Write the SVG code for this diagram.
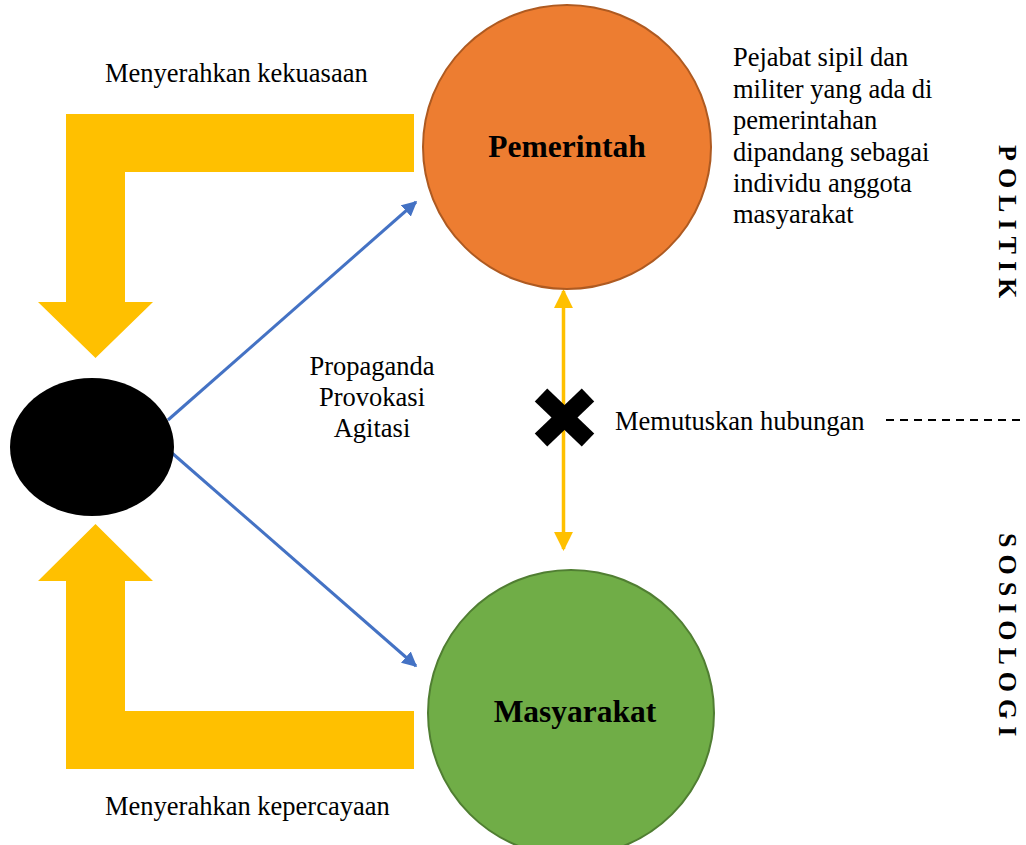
<svg xmlns="http://www.w3.org/2000/svg" width="1026" height="845" viewBox="0 0 1026 845">
<style>
.t{font-family:"Liberation Serif","Times New Roman",serif;font-size:26.5px;fill:#000}
.b{font-family:"Liberation Serif","Times New Roman",serif;font-size:31.5px;font-weight:bold;fill:#000}
.v{font-family:"Liberation Serif","Times New Roman",serif;font-size:26px;font-weight:bold;fill:#000;letter-spacing:7px}
.big{fill:#FFC000}
</style>
<defs>
<marker id="ab" viewBox="0 0 10 10" refX="9" refY="5" markerWidth="5" markerHeight="5" orient="auto"><path d="M0,0 L10,5 L0,10 z" fill="#4472C4"/></marker>
<marker id="ay" viewBox="0 0 10 10" refX="9" refY="5" markerWidth="5.5" markerHeight="5.5" orient="auto-start-reverse"><path d="M0,0 L10,5 L0,10 z" fill="#FFC000"/></marker>
</defs>
<rect width="1026" height="845" fill="#fff"/>
<g id="connectors">
<path class="big" d="M414,114 L66,114 L66,302 L38,302 L95.5,358 L153,302 L125,302 L125,172 L414,172 z"/>
<path class="big" d="M414,769 L66,769 L66,581 L38,581 L95.5,524 L153,581 L125,581 L125,711 L414,711 z"/>
<line x1="168" y1="420" x2="416" y2="202" stroke="#4472C4" stroke-width="3" marker-end="url(#ab)"/>
<line x1="172" y1="453" x2="416" y2="666" stroke="#4472C4" stroke-width="3" marker-end="url(#ab)"/>
<line x1="563.5" y1="291" x2="563.5" y2="549" stroke="#FFC000" stroke-width="3.5" marker-start="url(#ay)" marker-end="url(#ay)"/>
<g stroke="#000" stroke-width="18">
<line x1="541" y1="395" x2="588" y2="440"/>
<line x1="588" y1="395" x2="541" y2="440"/>
</g>
<line x1="886" y1="420" x2="1026" y2="420" stroke="#000" stroke-width="2" stroke-dasharray="8,6"/>
</g>
<g id="actor">
<ellipse cx="92" cy="447" rx="82" ry="69" fill="#000"/>
</g>
<g id="pemerintah">
<ellipse cx="567" cy="147" rx="144" ry="142" fill="#ED7D31" stroke="#AE5A21" stroke-width="2"/>
<text class="b" x="567" y="157" text-anchor="middle">Pemerintah</text>
</g>
<g id="masyarakat">
<ellipse cx="571" cy="713" rx="143" ry="143" fill="#70AD47" stroke="#507E32" stroke-width="2"/>
<text class="b" x="575" y="722" text-anchor="middle">Masyarakat</text>
</g>
<g id="labels">
<text class="t" x="105" y="82">Menyerahkan kekuasaan</text>
<text class="t" x="105" y="815">Menyerahkan kepercayaan</text>
<text class="t" x="372" y="375" text-anchor="middle">Propaganda</text>
<text class="t" x="372" y="406" text-anchor="middle">Provokasi</text>
<text class="t" x="372" y="437" text-anchor="middle">Agitasi</text>
<text class="t" x="615" y="430">Memutuskan hubungan</text>
<text class="t" x="733" y="66">Pejabat sipil dan</text>
<text class="t" x="733" y="98">militer yang ada di</text>
<text class="t" x="733" y="129">pemerintahan</text>
<text class="t" x="733" y="161">dipandang sebagai</text>
<text class="t" x="733" y="192">individu anggota</text>
<text class="t" x="733" y="223">masyarakat</text>
<text class="v" transform="translate(999,145) rotate(90)">POLITIK</text>
<text class="v" transform="translate(999,533) rotate(90)">SOSIOLOGI</text>
</g>
</svg>
